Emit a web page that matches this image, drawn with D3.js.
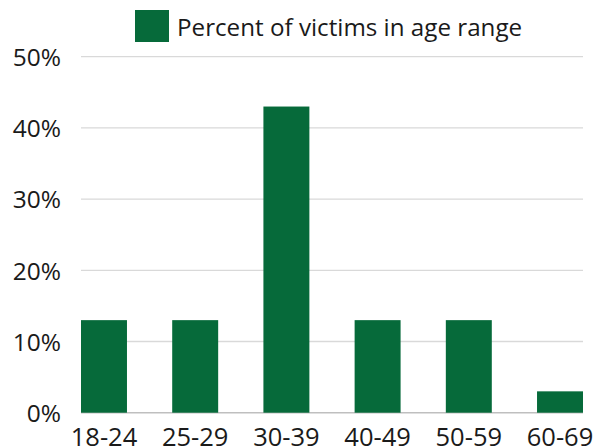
<!DOCTYPE html>
<html>
<head>
<meta charset="utf-8">
<script src="https://cdn.jsdelivr.net/npm/d3@7"></script>
<style>
  html, body { margin: 0; padding: 0; background: #ffffff; }
  svg { display: block; }
  text { font-family: "Open Sans", "Noto Sans", sans-serif; fill: #1a1a1a; }
</style>
</head>
<body>
<svg id="chart" width="602" height="448"></svg>
<script>
// Age ranges and the share of victims in each
const ageRanges = ["18-24", "25-29", "30-39", "40-49", "50-59", "60-69"];
const percentVictims = [13, 13, 43, 13, 13, 3];
const yTicks = [0, 10, 20, 30, 40, 50];
const seriesName = "Percent of victims in age range";

const barColor = "#066a3a";
const svg = d3.select("#chart");

const plot = { left: 81, right: 583, top: 56.7, bottom: 412.7 };

const x = d3.scaleBand()
  .domain(ageRanges)
  .range([plot.left, plot.right])
  .paddingInner(0.496)
  .paddingOuter(0);

const y = d3.scaleLinear()
  .domain([0, 50])
  .range([plot.bottom, plot.top]);

// Horizontal gridlines
svg.append("g")
  .selectAll("line")
  .data(yTicks.filter(t => t > 0))
  .join("line")
  .attr("x1", plot.left)
  .attr("x2", plot.right)
  .attr("y1", d => y(d))
  .attr("y2", d => y(d))
  .attr("stroke", "#d9d9d9")
  .attr("stroke-width", 1.3);

// Baseline
svg.append("line")
  .attr("x1", plot.left)
  .attr("x2", plot.right)
  .attr("y1", y(0))
  .attr("y2", y(0))
  .attr("stroke", "#bfbfbf")
  .attr("stroke-width", 1.5);

// Bars
svg.append("g")
  .selectAll("rect")
  .data(ageRanges.map((a, i) => ({ age: a, value: percentVictims[i] })))
  .join("rect")
  .attr("x", d => x(d.age))
  .attr("y", d => y(d.value))
  .attr("width", x.bandwidth())
  .attr("height", d => y(0) - y(d.value))
  .attr("fill", barColor);

// Y axis labels
const yAxis = d3.axisLeft(y)
  .tickValues(yTicks)
  .tickFormat(d => d + "%")
  .tickSize(0)
  .tickPadding(0);
const gy = svg.append("g")
  .attr("transform", `translate(61,0)`)
  .call(yAxis);
gy.select(".domain").remove();
gy.selectAll("text")
  .attr("font-size", 24.5)
  .attr("font-family", "Open Sans, Noto Sans, sans-serif")
  .attr("fill", "#1a1a1a")
  .attr("dy", "0.36em");

// X axis labels
const xAxis = d3.axisBottom(x).tickSize(0).tickPadding(0);
const gx = svg.append("g")
  .attr("transform", `translate(0,${plot.bottom})`)
  .call(xAxis);
gx.select(".domain").remove();
gx.selectAll("text")
  .attr("font-size", 25.5)
  .attr("font-family", "Open Sans, Noto Sans, sans-serif")
  .attr("fill", "#1a1a1a")
  .attr("dy", null)
  .attr("y", 33.3);

// Legend
const legend = svg.append("g");
legend.append("rect")
  .attr("x", 135)
  .attr("y", 10)
  .attr("width", 34)
  .attr("height", 32)
  .attr("fill", barColor);
legend.append("text")
  .attr("x", 177)
  .attr("y", 27)
  .attr("dy", "0.36em")
  .attr("font-size", 24.2)
  .text(seriesName);
</script>
</body>
</html>
